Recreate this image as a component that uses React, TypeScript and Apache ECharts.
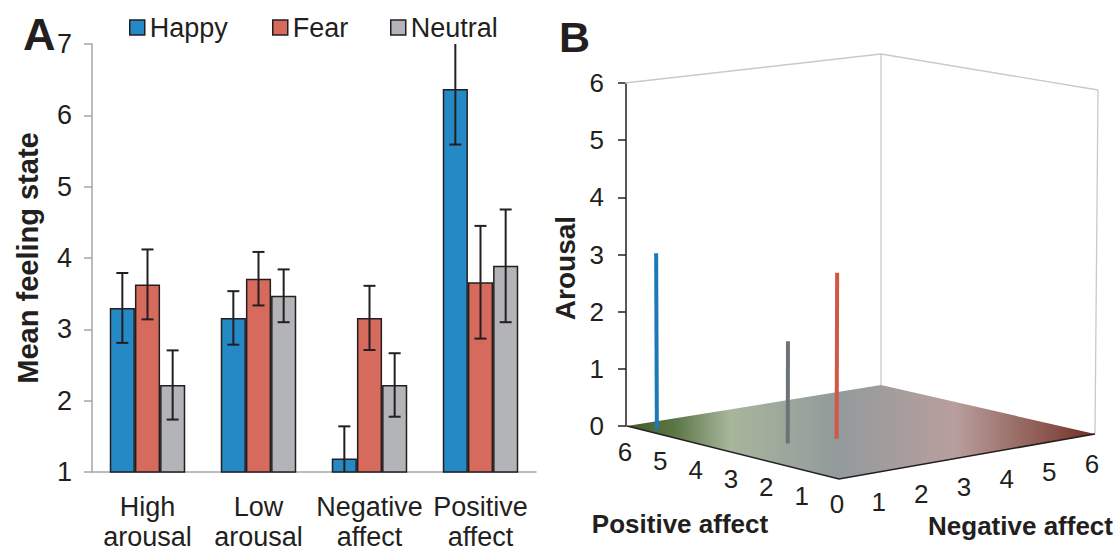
import React, { useEffect, useRef } from 'react';
import * as echarts from 'echarts';

// ---- Panel A: mean feeling state per condition ----
const categories = ['High\narousal', 'Low\narousal', 'Negative\naffect', 'Positive\naffect'];
const emotions = ['Happy', 'Fear', 'Neutral'];
const happyMeans = [3.3, 3.16, 1.19, 6.37];
const fearMeans = [3.63, 3.71, 3.16, 3.66];
const neutralMeans = [2.22, 3.47, 2.22, 3.89];
const happyErr = [0.49, 0.375, 0.45, 0.78];
const fearErr = [0.49, 0.375, 0.45, 0.79];
const neutralErr = [0.485, 0.37, 0.445, 0.79];
const meanAxisMin = 1;
const meanAxisMax = 7;

// ---- Panel B: emotion positions in affect space ----
const spacePositive = [5.43, 2.75, 2.99];
const spaceNegative = [0.23, 2.23, 1.28];
const spaceArousal = [3.07, 2.87, 1.76];
const spaceTicks = [0, 1, 2, 3, 4, 5, 6];

const FONT = '"Liberation Sans", Arial, Helvetica, sans-serif';
const INK = '#231f20';
const barColors = ['#2589c6', '#d66b5d', '#b3b4b8'];
const stemColors = ['#1b79b7', '#cf5847', '#6c7276'];
const AXIS_GREY = '#a6a6a8';
const BAR_CATEGORY_GAP = 0.32;
const TEXT_SIZE = 27;

const allMeans = [happyMeans, fearMeans, neutralMeans];
const allErrs = [happyErr, fearErr, neutralErr];

// Perspective box used for the affect-space plot: floor and ceiling corners
// (f = pos 0 / neg 0, l = pos max, r = neg max, b = both max).
const SPACE_MAX = 6;
const floorCorners = { f: [839, 479], l: [627, 426], r: [1095, 434], b: [881, 385] };
const ceilCorners = { f: [842, 119], l: [625, 83], r: [1098, 90], b: [881, 54] };

function bilerp(c: any, u: number, v: number) {
  return [0, 1].map(
    (i) => c.f[i] * (1 - u) * (1 - v) + c.l[i] * u * (1 - v) + c.r[i] * (1 - u) * v + c.b[i] * u * v
  );
}

function project(pos: number, neg: number, ar: number) {
  const u = pos / SPACE_MAX;
  const v = neg / SPACE_MAX;
  const w = ar / SPACE_MAX;
  const a = bilerp(floorCorners, u, v);
  const b = bilerp(ceilCorners, u, v);
  return [a[0] + (b[0] - a[0]) * w, a[1] + (b[1] - a[1]) * w];
}

function buildOption() {
  const errorData: number[][] = [];
  allMeans.forEach((means, e) => {
    means.forEach((m, c) => errorData.push([c, m, allErrs[e][c], e]));
  });

  const barSeries = emotions.map((name, e) => ({
    name,
    type: 'bar',
    xAxisIndex: 0,
    yAxisIndex: 0,
    data: allMeans[e],
    barGap: '0%',
    barCategoryGap: BAR_CATEGORY_GAP * 100 + '%',
    itemStyle: { color: barColors[e], borderColor: INK, borderWidth: 1.5 },
  }));

  const errorSeries = {
    type: 'custom',
    xAxisIndex: 0,
    yAxisIndex: 0,
    data: errorData,
    encode: { x: 0, y: 1 },
    z: 5,
    renderItem: (params: any, api: any) => {
      const c = api.value(0);
      const mean = api.value(1);
      const err = api.value(2);
      const e = api.value(3);
      const catW = api.size([1, 0])[0];
      const bw = (catW * (1 - BAR_CATEGORY_GAP)) / 3;
      const x = api.coord([c, mean])[0] + (e - 1) * bw;
      const hiV = mean + err;
      const loV = mean - err;
      const yHi = api.coord([c, Math.min(meanAxisMax, hiV)])[1];
      const yLo = api.coord([c, Math.max(meanAxisMin, loV)])[1];
      const style = { stroke: INK, lineWidth: 2 };
      const children: any[] = [{ type: 'line', shape: { x1: x, y1: yHi, x2: x, y2: yLo }, style }];
      const cap = 6;
      if (hiV <= meanAxisMax) children.push({ type: 'line', shape: { x1: x - cap, y1: yHi, x2: x + cap, y2: yHi }, style });
      if (loV >= meanAxisMin) children.push({ type: 'line', shape: { x1: x - cap, y1: yLo, x2: x + cap, y2: yLo }, style });
      return { type: 'group', children };
    },
  };

  // Floor, box edges, tick labels and axis titles of the affect space
  const frameSeries = {
    type: 'custom',
    coordinateSystem: 'none',
    data: [0],
    z: 1,
    silent: true,
    renderItem: () => {
      const p00 = project(0, 0, 0);
      const pP0 = project(SPACE_MAX, 0, 0);
      const pPN = project(SPACE_MAX, SPACE_MAX, 0);
      const p0N = project(0, SPACE_MAX, 0);
      const tP = project(SPACE_MAX, 0, SPACE_MAX);
      const tPN = project(SPACE_MAX, SPACE_MAX, SPACE_MAX);
      const t0N = project(0, SPACE_MAX, SPACE_MAX);
      const grey = { stroke: '#c9c9c9', lineWidth: 1.3 };
      const edge = { stroke: INK, lineWidth: 1.6 };
      const children: any[] = [
        {
          type: 'polygon',
          shape: { points: [p00, pP0, pPN, p0N] },
          style: {
            fill: new echarts.graphic.LinearGradient(0, 0, 1, 0, [
              { offset: 0, color: '#425a29' },
              { offset: 0.1, color: '#5a7544' },
              { offset: 0.22, color: '#a7b69b' },
              { offset: 0.45, color: '#939a9c' },
              { offset: 0.7, color: '#b89f9d' },
              { offset: 0.9, color: '#8b554d' },
              { offset: 1, color: '#6e3028' },
            ]),
          },
        },
        { type: 'line', shape: { x1: pPN[0], y1: pPN[1], x2: tPN[0], y2: tPN[1] }, style: grey },
        { type: 'line', shape: { x1: p0N[0], y1: p0N[1], x2: t0N[0], y2: t0N[1] }, style: grey },
        { type: 'polyline', shape: { points: [tP, tPN, t0N] }, style: { ...grey, fill: 'none' } },
        { type: 'polyline', shape: { points: [pP0, p00, p0N] }, style: { ...edge, fill: 'none' } },
      ];
      const tickFont = { fontSize: 26, fontFamily: FONT, fill: INK, align: 'center', verticalAlign: 'middle' };
      spaceTicks.forEach((k) => {
        if (k === 0) {
          const p = project(0, 0, 0);
          children.push({ type: 'text', x: p[0] - 2, y: p[1] + 25, style: { ...tickFont, text: '0' } });
          return;
        }
        const pp = project(k, 0, 0);
        children.push({ type: 'text', x: pp[0] - 2, y: pp[1] + 26, style: { ...tickFont, text: String(k) } });
        const pn = project(0, k, 0);
        children.push({ type: 'text', x: pn[0] - 3, y: pn[1] + 30, style: { ...tickFont, text: String(k) } });
      });
      const titleFont = { fontSize: 26, fontWeight: 'bold', fontFamily: FONT, fill: INK, align: 'center', verticalAlign: 'middle' };
      children.push({ type: 'text', x: 680, y: 524, style: { ...titleFont, text: 'Positive affect' } });
      children.push({ type: 'text', x: 1113, y: 526, style: { ...titleFont, align: 'right', text: 'Negative affect' } });
      children.push({
        type: 'text',
        x: 565,
        y: 268,
        rotation: Math.PI / 2,
        style: { ...titleFont, fontSize: 28, text: 'Arousal' },
      });
      return { type: 'group', children };
    },
  };

  const stemSeries = {
    type: 'custom',
    coordinateSystem: 'none',
    z: 3,
    silent: true,
    data: emotions.map((_, i) => [spacePositive[i], spaceNegative[i], spaceArousal[i]]),
    renderItem: (params: any, api: any) => {
      const pos = api.value(0);
      const neg = api.value(1);
      const ar = api.value(2);
      const a = project(pos, neg, 0);
      const b = project(pos, neg, ar);
      return {
        type: 'line',
        shape: { x1: a[0], y1: a[1], x2: b[0], y2: b[1] },
        style: { stroke: stemColors[params.dataIndex], lineWidth: 4 },
      };
    },
  };

  return {
    animation: false,
    backgroundColor: '#ffffff',
    textStyle: { fontFamily: FONT, color: INK },
    legend: emotions.map((name, i) => ({
      data: [name],
      left: [129, 272, 390][i],
      top: 14,
      padding: 0,
      icon: 'rect',
      itemWidth: 15,
      itemHeight: 15,
      itemStyle: { borderColor: INK, borderWidth: 1.5 },
      textStyle: { fontSize: TEXT_SIZE, color: INK, fontFamily: FONT },
      selectedMode: false,
    })),
    graphic: [
      { type: 'text', left: 23, top: 12, style: { text: 'A', fontSize: 45, fontWeight: 'bold', fontFamily: FONT, fill: INK } },
      { type: 'text', left: 559, top: 15, style: { text: 'B', fontSize: 43, fontWeight: 'bold', fontFamily: FONT, fill: INK } },
    ],
    grid: [
      { left: 92, top: 44, width: 444, height: 434 },
      { left: 626, top: 83, width: 470, height: 343 },
    ],
    xAxis: [
      {
        type: 'category',
        gridIndex: 0,
        data: categories,
        axisLine: { lineStyle: { color: AXIS_GREY, width: 1.5 } },
        axisTick: { length: 8, lineStyle: { color: AXIS_GREY, width: 1.5 } },
        axisLabel: { fontSize: TEXT_SIZE, color: INK, fontFamily: FONT, lineHeight: 30, margin: 20, interval: 0 },
      },
      { type: 'value', gridIndex: 1, show: false, min: 0, max: 1 },
    ],
    yAxis: [
      {
        type: 'value',
        gridIndex: 0,
        min: meanAxisMin,
        max: meanAxisMax,
        interval: 1,
        name: 'Mean feeling state',
        nameLocation: 'middle',
        nameGap: 50,
        nameTextStyle: { fontSize: 29, fontWeight: 'bold', color: INK, fontFamily: FONT },
        axisLine: { show: true, lineStyle: { color: AXIS_GREY, width: 1.5 } },
        axisTick: { show: true, length: 8, lineStyle: { color: AXIS_GREY, width: 1.5 } },
        axisLabel: { fontSize: TEXT_SIZE, color: INK, fontFamily: FONT, margin: 20 },
        splitLine: { show: false },
      },
      {
        type: 'value',
        gridIndex: 1,
        min: 0,
        max: SPACE_MAX,
        interval: 1,
        axisLine: { show: true, lineStyle: { color: INK, width: 1.5 } },
        axisTick: { show: true, length: 8, lineStyle: { color: INK, width: 1.5 } },
        axisLabel: { fontSize: 26, color: INK, fontFamily: FONT, margin: 22 },
        splitLine: { show: false },
      },
    ],
    series: [...barSeries, errorSeries, frameSeries, stemSeries],
  };
}

export default function App() {
  const ref = useRef<HTMLDivElement>(null);
  useEffect(() => {
    const chart = echarts.init(ref.current as HTMLDivElement, null, { renderer: 'svg' });
    chart.setOption(buildOption() as any);
    return () => chart.dispose();
  }, []);
  return <div ref={ref} style={{ position: 'absolute', left: 0, top: 0, width: 1117, height: 552 }} />;
}
